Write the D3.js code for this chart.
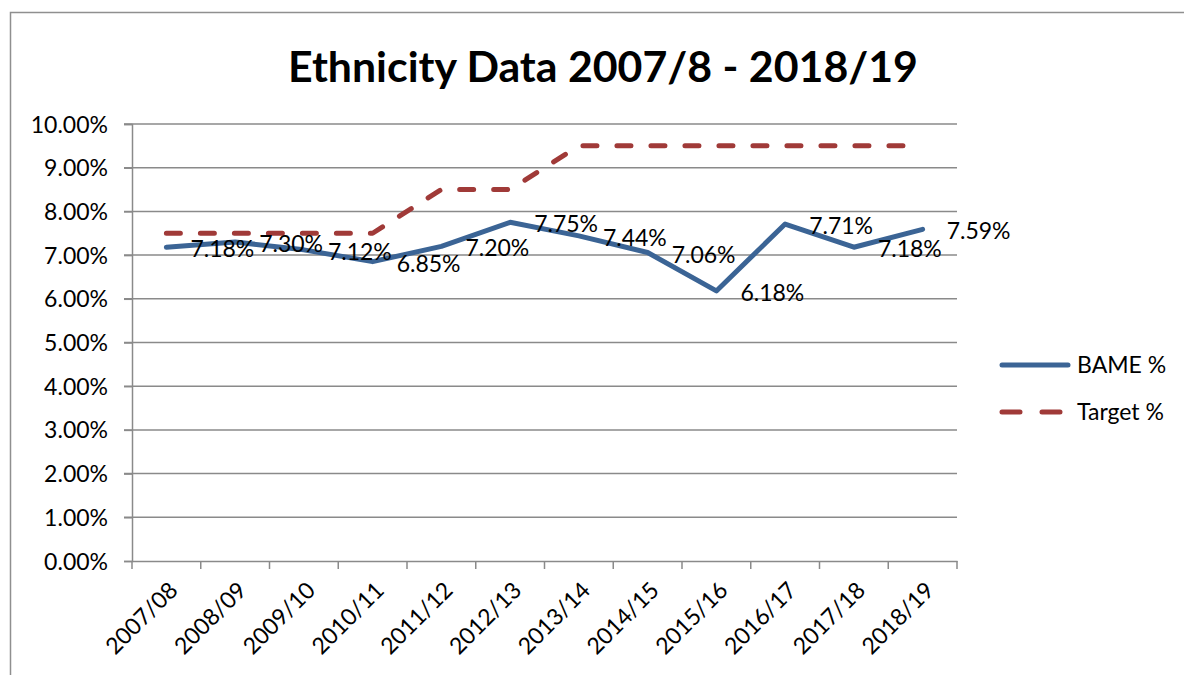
<!DOCTYPE html>
<html><head><meta charset="utf-8">
<script src="https://cdn.jsdelivr.net/npm/d3@7"></script>
<style>html,body{margin:0;padding:0;background:#fff;}svg{display:block;}</style>
</head><body>
<svg id="c" width="1184" height="675"></svg>
<script>
const categories = ["2007/08","2008/09","2009/10","2010/11","2011/12","2012/13","2013/14","2014/15","2015/16","2016/17","2017/18","2018/19"];
const bameValues = [7.18,7.30,7.12,6.85,7.20,7.75,7.44,7.06,6.18,7.71,7.18,7.59];
const targetValues = [7.5,7.5,7.5,7.5,8.5,8.5,9.5,9.5,9.5,9.5,9.5,9.5];
const yTicks = [0,1,2,3,4,5,6,7,8,9,10];
const seriesNames = ["BAME %","Target %"];
const titleText = "Ethnicity Data 2007/8 - 2018/19";

(function(){
const svg = d3.select("#c");
const FONT = "Lato, 'Open Sans', sans-serif";
const BLUE = "#3B6495", RED = "#A03A38", GRID = "#8A8A8A";

svg.append("path").attr("d","M10.5,675 L10.5,12.5 L1184,12.5").attr("fill","none").attr("stroke","#8f8f8f").attr("stroke-width",1.5);

const pL = 132, pR = 957, pT = 124, pB = 561;
const x = d3.scaleBand().domain(categories).range([pL,pR]).padding(0);
const y = d3.scaleLinear().domain([0,10]).range([pB,pT]);
const cx = d => x(d) + x.bandwidth()/2;

const t = svg.append("text").attr("x",603).attr("y",82).attr("text-anchor","middle")
  .attr("font-family",FONT).attr("font-weight","bold").attr("font-size",38).attr("fill","#000").text(titleText);
const tw = t.node().getComputedTextLength();
t.attr("font-size", 38*630/tw);

svg.append("g").selectAll("line").data(yTicks.filter(v=>v>0)).join("line")
  .attr("x1",pL-8).attr("x2",pR).attr("y1",d=>y(d)).attr("y2",d=>y(d))
  .attr("stroke",GRID).attr("stroke-width",1.5);

const ya = svg.append("g").attr("transform",`translate(${pL},0)`)
  .call(d3.axisLeft(y).tickValues(yTicks).tickSize(8).tickPadding(16).tickFormat(d=>d.toFixed(2)+"%"));
ya.select(".domain").attr("stroke",GRID).attr("stroke-width",1.5);
ya.selectAll(".tick line").attr("stroke",GRID).attr("stroke-width",1.5);
ya.selectAll("text").attr("font-family",FONT).attr("font-size",23).attr("fill","#000").attr("dy","0.35em");

const xa = svg.append("g").attr("transform",`translate(0,${pB})`)
  .call(d3.axisBottom(x).tickSize(0).tickFormat(""));
xa.select(".domain").attr("stroke",GRID).attr("stroke-width",1.5);
svg.append("g").selectAll("line").data(d3.range(categories.length+1)).join("line")
  .attr("x1",i=>pL+i*x.bandwidth()).attr("x2",i=>pL+i*x.bandwidth())
  .attr("y1",pB).attr("y2",pB+8).attr("stroke",GRID).attr("stroke-width",1.5);
svg.append("g").selectAll("text").data(categories).join("text")
  .attr("transform",d=>`translate(${cx(d)+7},${pB+25}) rotate(-45)`)
  .attr("text-anchor","end").attr("dy","0.35em")
  .attr("font-family",FONT).attr("font-size",23).attr("fill","#000").text(d=>d);

const line = d3.line().x((d,i)=>cx(categories[i])).y(d=>y(d));
svg.append("path").datum(targetValues).attr("d",line).attr("fill","none")
  .attr("stroke",RED).attr("stroke-width",5).attr("stroke-dasharray","14 20").attr("stroke-linecap","round").attr("stroke-linejoin","round");
svg.append("path").datum(bameValues).attr("d",line).attr("fill","none")
  .attr("stroke",BLUE).attr("stroke-width",5).attr("stroke-linejoin","round").attr("stroke-linecap","round");

svg.append("g").selectAll("text").data(bameValues).join("text")
  .attr("x",(d,i)=>cx(categories[i])+24).attr("y",d=>y(d)+2).attr("dy","0.35em")
  .attr("font-family",FONT).attr("font-size",23).attr("fill","#000").text(d=>d.toFixed(2)+"%");

const lg = svg.append("g");
lg.append("line").attr("x1",1002).attr("x2",1068).attr("y1",365).attr("y2",365).attr("stroke",BLUE).attr("stroke-width",5).attr("stroke-linecap","round");
lg.append("line").attr("x1",1002).attr("x2",1068).attr("y1",412).attr("y2",412).attr("stroke",RED).attr("stroke-width",5).attr("stroke-linecap","round").attr("stroke-dasharray","18 22");
lg.selectAll("text").data(seriesNames).join("text")
  .attr("x",1077).attr("y",(d,i)=>365+i*47).attr("dy","0.35em")
  .attr("font-family",FONT).attr("font-size",23).attr("fill","#000").text(d=>d);
})();
</script>
</body></html>
